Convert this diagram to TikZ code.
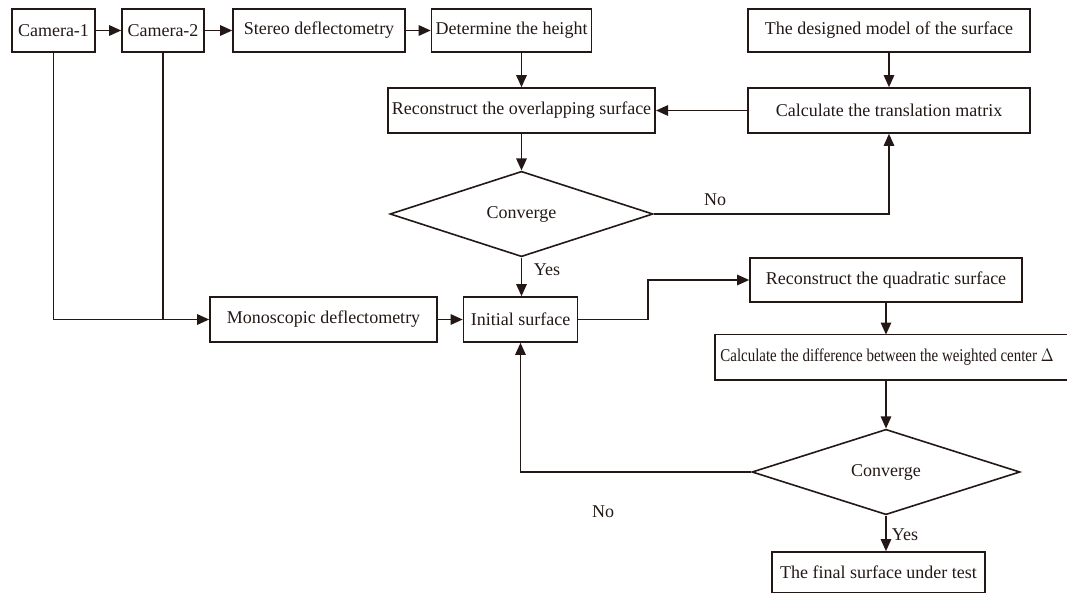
\documentclass[tikz,border=0pt]{standalone}
\usepackage{fontspec}
\setmainfont{Liberation Serif}
\usetikzlibrary{arrows.meta,shapes.geometric}
\definecolor{ink}{HTML}{231815}

\begin{document}
\begin{tikzpicture}[x=0.5pt,y=-0.5pt,>={Triangle[length=6pt,width=5.2pt]},
  box/.style={draw=ink,line width=0.8pt,minimum height=21.5pt,inner sep=2pt,text=ink,font=\fontsize{9}{10}\selectfont},
  test/.style={draw=ink,line width=0.8pt,diamond,inner sep=0pt,text=ink,font=\fontsize{9}{10}\selectfont},
  lbl/.style={text=ink,font=\fontsize{9}{10}\selectfont},
  link/.style={draw=ink,line width=0.8pt}]
\useasboundingbox (0,0) rectangle (1067,593);
\clip (0,0) rectangle (1067,593);
% top row
\node[box,minimum width=41.5pt] (cam1) at (53.5,30.5) {Camera-1};
\node[box,minimum width=41pt] (cam2) at (163,30.5) {Camera-2};
\node[box,minimum width=86pt] (stereo) at (319,30.5) {Stereo deflectometry};
\node[box,minimum width=78.5pt] (height) at (511.5,30.5) {Determine the height};
\node[box,minimum width=141pt] (design) at (889,30.5) {The designed model of the surface};
\node[box,minimum width=141pt,minimum height=22.5pt] (transl) at (889,110.5) {Calculate the translation matrix};
\node[box,minimum width=133.5pt,minimum height=22.5pt] (overlap) at (521.5,110.5) {Reconstruct the overlapping surface};
\node[test,minimum width=131.5pt,minimum height=41.5pt] (conv1) at (521.5,214) {Converge};
% middle row
\node[box,minimum width=113.5pt,minimum height=22.5pt] (mono) at (323.5,319.5) {Monoscopic deflectometry};
\node[box,minimum width=57pt,minimum height=22.5pt] (initial) at (520.5,319.5) {Initial surface};
\node[box,minimum width=136pt,minimum height=22pt] (quad) at (886,280) {Reconstruct the quadratic surface};
% this box runs off the right edge
\node[lbl,anchor=west,inner xsep=0pt,minimum height=22.5pt] (diff) at (720,357.5) {\scalebox{0.83}[1]{Calculate the difference between the weighted center $\Delta$}};
\draw[link] ([xshift=-2.5pt]diff.north west) rectangle (1120,380);
\node[test,minimum width=134pt,minimum height=40.5pt] (conv2) at (886,472) {Converge};
\node[box,minimum width=106.5pt,minimum height=20.5pt] (final) at (878.5,572.5) {The final surface under test};
\coordinate (bend) at (648,280);
% labels
\node[lbl] (no1) at (715,200) {No};
\node[lbl] (yes1) at (547,270) {Yes};
\node[lbl] (no2) at (603,512) {No};
\node[lbl] (yes2) at (905,535) {Yes};
% connectors
\draw[link,->] (cam1) -- (cam2);
\draw[link,->] (cam2) -- (stereo);
\draw[link,->] (stereo) -- (height);
\draw[link,->] (overlap.north |- height.south) -- (overlap.north);
\draw[link,->] (design) -- (transl);
\draw[link,->] (transl) -- (overlap);
\draw[link,->] (overlap.south) -- (conv1.north);
\draw[link,->] (conv1.east) -| (transl.south);
\draw[link,->] (conv1.south) -- (conv1.south |- initial.north);
\draw[link,->] (cam1.south) |- (mono.west);
\draw[link] (cam2.south) -- (cam2.south |- mono.west);
\draw[link,->] (mono) -- (initial);
\draw[link,->] (initial.east) -| (bend) -- (quad.west);
\draw[link,->] (quad.south) -- (quad.south |- diff.north);
\draw[link,->] (conv2.north |- diff.south) -- (conv2.north);
\draw[link,->] (conv2.west) -| (initial.south);
\draw[link,->] (conv2.south) -- (conv2.south |- final.north);
\end{tikzpicture}
\end{document}
